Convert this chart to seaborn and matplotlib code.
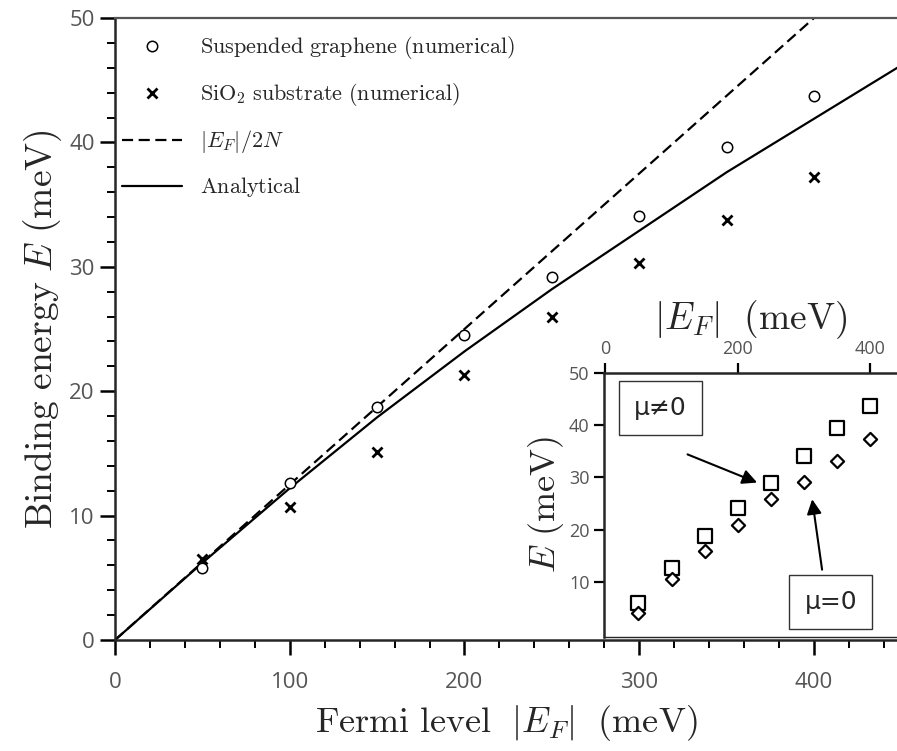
import matplotlib
matplotlib.use("Agg")
import matplotlib.pyplot as plt
import seaborn as sns
import pandas as pd

# ---- data ----
ef = [50, 100, 150, 200, 250, 300, 350, 400]
suspended = [5.8, 12.6, 18.7, 24.5, 29.2, 34.1, 39.6, 43.7]
sio2 = [6.5, 10.7, 15.1, 21.3, 26.0, 30.3, 33.8, 37.2]

line_x = [0, 50, 100, 150, 200, 250, 300, 350, 400, 450]
dashed_y = [0, 6.25, 12.5, 18.75, 25.0, 31.25, 37.5, 43.75, 50.0, 56.25]
analytic_y = [0, 6.2, 12.2, 17.9, 23.2, 28.2, 32.9, 37.6, 41.9, 46.2]

inset_mu_ne0 = [6.0, 12.7, 18.7, 24.2, 29.0, 34.0, 39.4, 43.7]
inset_mu_0 = [4.0, 10.6, 15.8, 20.8, 25.8, 29.2, 33.1, 37.3]

main_xticks = [0, 100, 200, 300, 400]
main_yticks = [0, 10, 20, 30, 40, 50]
inset_xticks = [0, 200, 400]
inset_yticks = [10, 20, 30, 40, 50]

sns.set_style("ticks")
plt.rcParams["mathtext.fontset"] = "cm"
plt.rcParams["font.family"] = ["Open Sans", "DejaVu Sans"]

fig = plt.figure(figsize=(8.97, 7.51), dpi=100)
ax = fig.add_axes([115 / 897, 111 / 751, 782 / 897, 622 / 751])

df_l = pd.DataFrame({"x": line_x, "dash": dashed_y, "ana": analytic_y})
df_p = pd.DataFrame({"x": ef, "s": suspended, "o": sio2})

sns.lineplot(data=df_l, x="x", y="dash", ax=ax, color="black", lw=1.6,
             linestyle=(0, (5, 2.5)), label=r"$|E_F|/2N$")
sns.lineplot(data=df_l, x="x", y="ana", ax=ax, color="black", lw=1.6,
             label=r"$\mathrm{Analytical}$")
ax.plot(df_p["x"], df_p["s"], linestyle="none", marker="o", ms=7.5,
        mfc="white", mec="black", mew=1.1,
        label=r"$\mathrm{Suspended\ graphene\ (numerical)}$")
ax.plot(df_p["x"], df_p["o"], linestyle="none", marker="x", ms=7.5,
        color="black", mew=2.0,
        label=r"$\mathrm{SiO_2\ substrate\ (numerical)}$")

ax.set_xlim(0, 447.5)
ax.set_ylim(0, 50)
ax.set_xticks(main_xticks)
ax.set_yticks(main_yticks)
ax.set_xticks(range(0, 441, 20), minor=True)
ax.set_yticks(range(0, 51, 2), minor=True)
ax.tick_params(axis="both", which="major", direction="out", length=11, width=1.8,
               labelsize=16, labelcolor="#555555", color="black")
ax.tick_params(axis="x", which="major", pad=12)
ax.tick_params(axis="both", which="minor", direction="out", length=6, width=1.4,
               color="black")
ax.spines["right"].set_visible(False)
ax.spines["left"].set_linewidth(1.8)
ax.spines["bottom"].set_linewidth(1.8)
ax.spines["top"].set_color("#555555")
ax.spines["top"].set_linewidth(1.6)
ax.set_xlabel(r"$\mathrm{Fermi\ level}\ \ |E_F|\ \ \mathrm{(meV)}$", fontsize=26, labelpad=7)
ax.set_ylabel(r"$\mathrm{Binding\ energy}\ E\ \mathrm{(meV)}$", fontsize=27, labelpad=4)

h, l = ax.get_legend_handles_labels()
order = [2, 3, 0, 1]
ax.legend([h[i] for i in order], [l[i] for i in order], loc="upper left",
          bbox_to_anchor=(-0.008, 0.995), frameon=False, fontsize=16,
          handlelength=2.7, handletextpad=0.8, labelspacing=0.9, borderaxespad=0.2)

# ---- inset ----
ins = fig.add_axes([604 / 897, (751 - 637) / 751, 293 / 897, 264 / 751])
df_i = pd.DataFrame({"x": ef, "a": inset_mu_ne0, "b": inset_mu_0})
sns.scatterplot(data=df_i, x="x", y="a", ax=ins, marker="s", s=110,
                facecolor="white", edgecolor="black", linewidth=1.6, zorder=3)
sns.scatterplot(data=df_i, x="x", y="b", ax=ins, marker="D", s=45,
                facecolor="white", edgecolor="black", linewidth=1.6, zorder=4)
ins.set_xlim(-2, 440)
ins.set_ylim(-0.6, 50)
ins.set_xticks(inset_xticks)
ins.set_yticks(inset_yticks)
ins.xaxis.tick_top()
ins.xaxis.set_label_position("top")
ins.tick_params(axis="both", which="major", direction="out", length=7, width=1.6,
                labelsize=13, labelcolor="#555555", color="black")
ins.tick_params(axis="x", pad=4)
ins.spines["right"].set_visible(False)
ins.spines["left"].set_linewidth(1.8)
ins.spines["top"].set_linewidth(1.8)
ins.spines["bottom"].set_linewidth(1.0)
ins.set_xlabel(r"$|E_F|\ \ \mathrm{(meV)}$", fontsize=27, labelpad=8)
ins.set_ylabel(r"$E\ \mathrm{(meV)}$", fontsize=26, labelpad=2)

box = dict(boxstyle="square,pad=0.6", fc="white", ec="#333333", lw=1.0)
ins.text(83, 43.3, "μ≠0", ha="center", va="center", fontsize=18,
         family=["DejaVu Sans"], bbox=box)
ins.text(340, 6.2, "μ=0", ha="center", va="center", fontsize=18,
         family=["DejaVu Sans"], bbox=box)
arr = dict(arrowstyle="-|>", color="black", lw=1.5, mutation_scale=22,
           shrinkA=0, shrinkB=0)
ins.annotate("", xy=(229, 29.0), xytext=(124, 34.4), arrowprops=arr)
ins.annotate("", xy=(312, 25.8), xytext=(327, 12.3), arrowprops=arr)

fig.savefig("out.png", dpi=100)
